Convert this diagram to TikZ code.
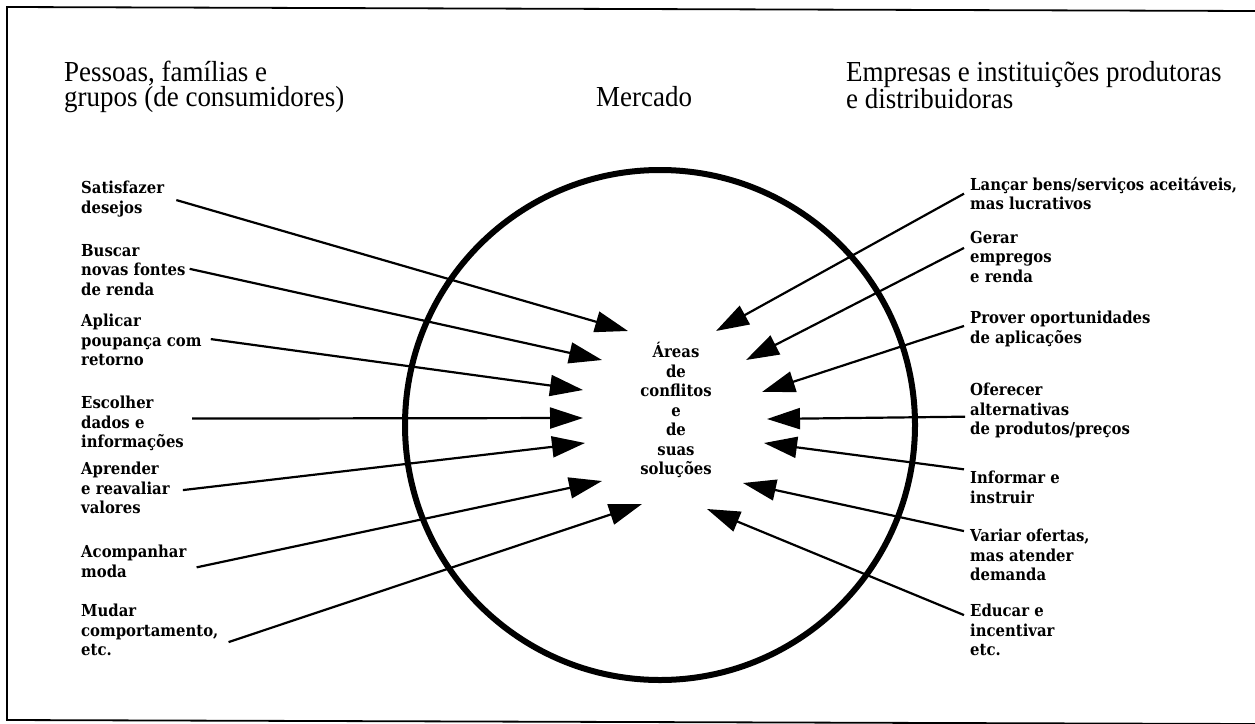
\documentclass[tikz,border=0pt]{standalone}
\usepackage{fontspec}
\setmainfont{Liberation Serif}
\newfontfamily\hdfont[FakeStretch=0.93]{Liberation Serif}
\newfontfamily\lblfont[FakeStretch=0.9]{DejaVu Serif}
\usetikzlibrary{arrows.meta}
\begin{document}
\begin{tikzpicture}[x=1pt,y=-1pt,
  lbl/.style={font=\lblfont\bfseries\fontsize{16.5}{19.5}\selectfont, align=left, inner sep=0pt},
  lleft/.style={lbl, anchor=north west},
  lright/.style={lbl, anchor=north west},
  hd/.style={font=\hdfont\fontsize{29}{25}\selectfont, align=left, inner sep=0pt, anchor=north west},
  arr/.style={line width=2.2pt, -{Triangle[length=33pt,width=21pt]}},
  frame/.style={line width=1.8pt},
  ring/.style={line width=6pt}
]
\useasboundingbox (0,0) rectangle (1255,723);
\clip (0,0) rectangle (1255,723);
\fill[white] (0,0) rectangle (1255,723);
% frame
\draw[frame] (1255,11) -- (7,7) -- (7,720) -- (1255,724);
% headings
\node[hd] (h1) at (64,61) {Pessoas, famílias e\\grupos (de consumidores)};
\node[hd, anchor=base west] (h2) at (596,106) {Mercado};
\node[hd] (h3) at (846,61) {Empresas e instituições produtoras\\e distribuidoras};
% circle
\node[draw, ring, circle, minimum size=510pt, inner sep=0pt] (mk) at (660,425) {};
% centre text
\node[lbl, align=center, anchor=north] (ctr) at (676,342) {Áreas\\de\\conflitos\\e\\de\\suas\\soluções};
% left labels
\node[lleft] (l1) at (81,181) {Satisfazer\\desejos};
\node[lleft] (l2) at (81,244) {Buscar\\novas fontes\\de renda};
\node[lleft] (l3) at (81,314) {Aplicar\\poupança com\\retorno};
\node[lleft] (l4) at (81,396) {Escolher\\dados e\\informações};
\node[lleft] (l5) at (81,462) {Aprender\\e reavaliar\\valores};
\node[lleft] (l6) at (81,545) {Acompanhar\\moda};
\node[lleft] (l7) at (81,604) {Mudar\\comportamento,\\etc.};
% right labels
\node[lright] (r1) at (970,177) {Lançar bens/serviços aceitáveis,\\mas lucrativos};
\node[lright] (r2) at (970,231) {Gerar\\empregos\\e renda};
\node[lright] (r3) at (970,311) {Prover oportunidades\\de aplicações};
\node[lright] (r4) at (970,383) {Oferecer\\alternativas\\de produtos/preços};
\node[lright] (r5) at (970,471) {Informar e\\instruir};
\node[lright] (r6) at (970,529) {Variar ofertas,\\mas atender\\demanda};
\node[lright] (r7) at (970,604) {Educar e\\incentivar\\etc.};
% arrow tips
\coordinate (t1) at (628,331);
\coordinate (t2) at (602,360);
\coordinate (t3) at (583,390);
\coordinate (t4) at (583,418);
\coordinate (t5) at (585,443);
\coordinate (t6) at (602,481);
\coordinate (t7) at (642,504);
\coordinate (u1) at (716,331);
\coordinate (u2) at (746,360);
\coordinate (u3) at (762,392);
\coordinate (u4) at (767,419);
\coordinate (u5) at (764,443);
\coordinate (u6) at (743,483);
\coordinate (u7) at (707,509);
% arrows from the left
\draw[arr] ([xshift=12pt,yshift=-1pt]l1.east) -- (t1);
\draw[arr] ([xshift=4pt,yshift=1pt]l2.east) -- (t2);
\draw[arr] ([xshift=9pt,yshift=1pt]l3.east) -- (t3);
\draw[arr] ([xshift=8pt,yshift=5pt]l4.east) -- (t4);
\draw[arr] ([xshift=13pt,yshift=-2pt]l5.east) -- (t5);
\draw[arr] ([xshift=10pt,yshift=-6pt]l6.east) -- (t6);
\draw[arr] ([xshift=10pt,yshift=-12pt]l7.east) -- (t7);
% arrows from the right
\draw[arr] ([xshift=-6pt,yshift=0pt]r1.west) -- (u1);
\draw[arr] ([xshift=-6pt,yshift=9pt]r2.west) -- (u2);
\draw[arr] ([xshift=-6pt,yshift=3pt]r3.west) -- (u3);
\draw[arr] ([xshift=-5pt,yshift=-6pt]r4.west) -- (u4);
\draw[arr] ([xshift=-6pt,yshift=18pt]r5.west) -- (u5);
\draw[arr] ([xshift=-6pt,yshift=24pt]r6.west) -- (u6);
\draw[arr] ([xshift=-6pt,yshift=15pt]r7.west) -- (u7);
\end{tikzpicture}
\end{document}
